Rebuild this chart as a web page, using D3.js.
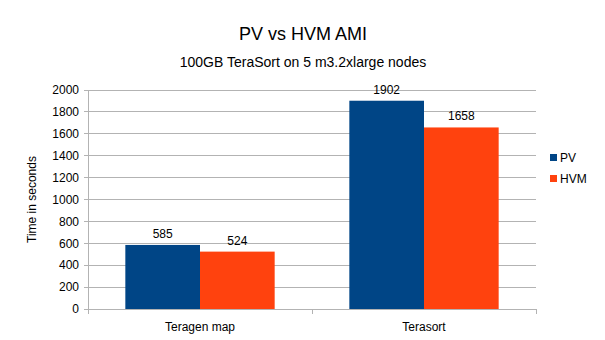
<!DOCTYPE html>
<html><head><meta charset="utf-8">
<script src="https://cdn.jsdelivr.net/npm/d3@7"></script>
<style>body{margin:0;background:#fff}svg{display:block;font-family:"Liberation Sans",Arial,sans-serif}</style>
</head><body>
<script>
const categories = ["Teragen map", "Terasort"];
const seriesNames = ["PV", "HVM"];
const pvValues = [585, 1902];
const hvmValues = [524, 1658];
const yTicks = [0, 200, 400, 600, 800, 1000, 1200, 1400, 1600, 1800, 2000];
const colors = ["#004586", "#ff420e"];

const W = 605, H = 340;
const svg = d3.select("body").append("svg").attr("width", W).attr("height", H);
const pL = 88, pR = 536, pT = 90, pB = 309;

const x0 = d3.scaleBand().domain(categories).range([pL, pR]).padding(0);
const x1 = d3.scaleBand().domain(seriesNames).range([0, x0.bandwidth()]).paddingOuter(0.5).paddingInner(0);
const y = d3.scaleLinear().domain([0, 2000]).range([pB, pT]);

// gridlines
svg.append("g").selectAll("line").data(yTicks).join("line")
  .attr("x1", pL - 4).attr("x2", pR).attr("y1", d => y(d)).attr("y2", d => y(d))
  .attr("stroke", "#b3b3b3").attr("stroke-width", 1).attr("shape-rendering", "crispEdges");
// y axis line
svg.append("line").attr("x1", pL).attr("x2", pL).attr("y1", pT).attr("y2", pB + 4)
  .attr("stroke", "#b3b3b3").attr("shape-rendering", "crispEdges");
// x ticks
const xt = [pL, ...categories.slice(1).map(c => x0(c)), pR];
svg.append("g").selectAll("line").data(xt).join("line")
  .attr("x1", d => d).attr("x2", d => d).attr("y1", pB).attr("y2", pB + 5)
  .attr("stroke", "#b3b3b3").attr("shape-rendering", "crispEdges");

// y tick labels
svg.append("g").selectAll("text").data(yTicks).join("text")
  .attr("x", pL - 9).attr("y", d => y(d)).attr("dy", "0.35em").attr("text-anchor", "end")
  .attr("font-size", 12).attr("fill", "#000").text(d => d);

// bars
const data = categories.map((c, i) => ({ c, vals: [pvValues[i], hvmValues[i]] }));
const g = svg.append("g").selectAll("g").data(data).join("g").attr("transform", d => `translate(${x0(d.c)},0)`);
g.selectAll("rect").data(d => d.vals.map((v, j) => ({ v, s: seriesNames[j], j }))).join("rect")
  .attr("x", d => x1(d.s)).attr("width", x1.bandwidth())
  .attr("y", d => y(d.v)).attr("height", d => y(0) - y(d.v))
  .attr("fill", d => colors[d.j]);
g.selectAll("text").data(d => d.vals.map((v, j) => ({ v, s: seriesNames[j] }))).join("text")
  .attr("x", d => x1(d.s) + x1.bandwidth() / 2).attr("y", d => y(d.v) - 7)
  .attr("text-anchor", "middle").attr("font-size", 12).attr("fill", "#000").text(d => d.v);

// category labels
svg.append("g").selectAll("text").data(categories).join("text")
  .attr("x", d => x0(d) + x0.bandwidth() / 2).attr("y", 331).attr("text-anchor", "middle")
  .attr("font-size", 12).attr("fill", "#000").text(d => d);

// titles
svg.append("text").attr("x", 303).attr("y", 40).attr("text-anchor", "middle").attr("font-size", 18).text("PV vs HVM AMI");
svg.append("text").attr("x", 303).attr("y", 67).attr("text-anchor", "middle").attr("font-size", 14).text("100GB TeraSort on 5 m3.2xlarge nodes");
svg.append("text").attr("transform", `translate(36,${(pT + pB) / 2}) rotate(-90)`).attr("text-anchor", "middle")
  .attr("font-size", 12).text("Time in seconds");

// legend
const lg = svg.append("g").selectAll("g").data(seriesNames).join("g")
  .attr("transform", (d, i) => `translate(550,${158 + i * 21})`);
lg.append("rect").attr("x", 0).attr("y", -4).attr("width", 7).attr("height", 7).attr("fill", (d, i) => colors[i]);
lg.append("text").attr("x", 10).attr("y", 0).attr("dy", "0.35em").attr("font-size", 12).text(d => d);
</script>
</body></html>
